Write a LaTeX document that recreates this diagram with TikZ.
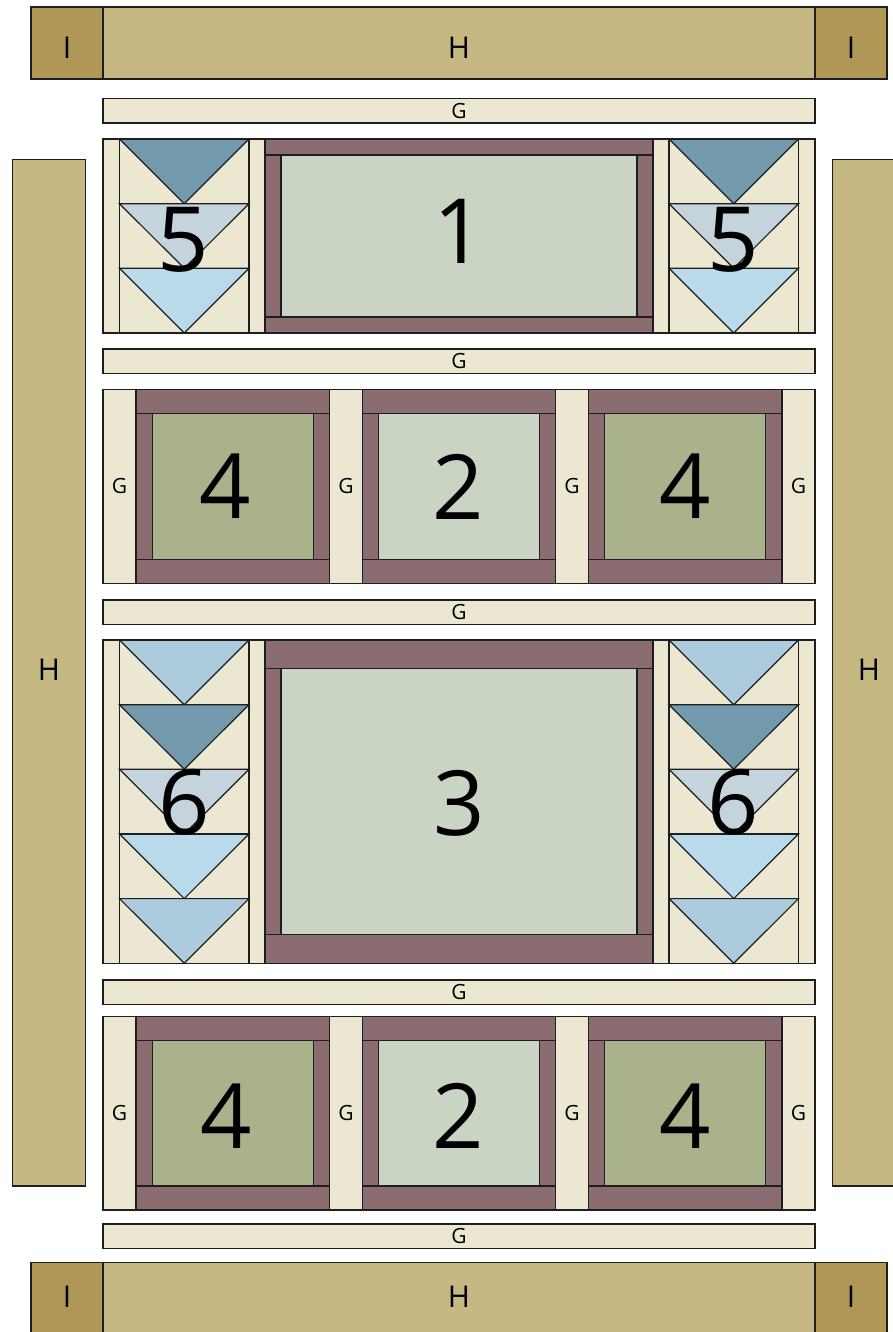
\documentclass[tikz,border=0pt]{standalone}
\usepackage{fontspec}
\setmainfont{Open Sans}
\definecolor{tanH}{HTML}{C5B883}
\definecolor{ochreI}{HTML}{B09756}
\definecolor{creamG}{HTML}{ECE7D0}
\definecolor{mauve}{HTML}{8B6C71}
\definecolor{sage}{HTML}{C9D4C4}
\definecolor{olive}{HTML}{AAB28B}
\definecolor{teal}{HTML}{7399AC}
\definecolor{grayblue}{HTML}{C4D3DC}
\definecolor{lightblue}{HTML}{B8DAEA}
\definecolor{midblue}{HTML}{ACCBDC}
\definecolor{edge}{HTML}{1E1E1E}
\tikzset{
  piece/.style={draw=edge,line width=1.2pt,line join=miter},
  lblsmall/.style={inner sep=0pt,font=\fontsize{21}{21}\selectfont},
  lblbig/.style={inner sep=0pt,font=\fontsize{30}{30}\selectfont},
  lblnum/.style={inner sep=0pt,font=\fontsize{90}{90}\selectfont},
}
% goose unit: x0 x1 ytop ybot colour
\newcommand\gooseunit[5]{%
  \fill[creamG] (#1,#3) rectangle (#2,#4);
  \filldraw[piece,fill=#5] (#1,#3) -- (#2,#3) -- ({(#1+#2)/2},#4) -- cycle;
  \draw[piece] (#1,#3) rectangle (#2,#4);
}
% framed block: x0 x1 y0 y1 dx dy centre-colour
\newcommand\framedblock[7]{%
  \filldraw[piece,fill=mauve] (#1,#3) rectangle (#2,#4);
  \draw[piece] (#1,#3+#6) -- (#2,#3+#6);
  \draw[piece] (#1,#4-#6) -- (#2,#4-#6);
  \filldraw[piece,fill=#7] (#1+#5,#3+#6) rectangle (#2-#5,#4-#6);
}
\begin{document}
\begin{tikzpicture}[x=1pt,y=-1pt]
\clip (0,0) rectangle (893,1332);
\fill[white] (0,0) rectangle (893,1332);
% top border
\filldraw[piece,fill=ochreI] (31,7) rectangle (103,79);
\filldraw[piece,fill=tanH] (103,7) rectangle (815,79);
\filldraw[piece,fill=ochreI] (815,7) rectangle (887,79);
\node[lblbig] (iTL) at (67,48) {I};
\node[lblbig] (hT) at (459,48) {H};
\node[lblbig] (iTR) at (851,48) {I};
% bottom border
\filldraw[piece,fill=ochreI] (31,1262.5) rectangle (103,1340);
\filldraw[piece,fill=tanH] (103,1262.5) rectangle (815,1340);
\filldraw[piece,fill=ochreI] (815,1262.5) rectangle (887,1340);
\node[lblbig] (iBL) at (67,1297) {I};
\node[lblbig] (hB) at (459,1297) {H};
\node[lblbig] (iBR) at (851,1297) {I};
% side borders
\filldraw[piece,fill=tanH] (12.5,159.5) rectangle (85.5,1186);
\filldraw[piece,fill=tanH] (832.5,159.5) rectangle (905.5,1186);
\node[lblbig] (hL) at (49,670) {H};
\node[lblbig] (hR) at (869,670) {H};
% horizontal sashing G
\foreach \ya/\yb/\nm in {98.5/123/g1,349/373.5/g2,600/624.5/g3,980/1004.5/g4,1224/1248.5/g5}{
  \filldraw[piece,fill=creamG] (103,\ya) rectangle (815,\yb);
  \node[lblsmall] (\nm) at (459,{(\ya+\yb)/2}) {G};
}
% ---------- row 1 ----------
\foreach \xa/\xb in {103/119.5,249/265,653/669,798.5/815}{
  \filldraw[piece,fill=creamG] (\xa,139) rectangle (\xb,333);
}
\foreach \xa/\xb in {119.5/249,669/798.5}{
  \gooseunit{\xa}{\xb}{139}{203.7}{teal}
  \gooseunit{\xa}{\xb}{203.7}{268.3}{grayblue}
  \gooseunit{\xa}{\xb}{268.3}{333}{lightblue}
}
\framedblock{265}{653}{139}{333}{16}{16}{sage}
\node[lblnum] (n1) at (459,231.5) {1};
\node[lblnum] (n5l) at (183.5,240) {5};
\node[lblnum] (n5r) at (733.5,240) {5};
% ---------- row 3 ----------
\foreach \xa/\xb in {103/119.5,249/265,653/669,798.5/815}{
  \filldraw[piece,fill=creamG] (\xa,640) rectangle (\xb,963.3);
}
\foreach \xa/\xb in {119.5/249,669/798.5}{
  \gooseunit{\xa}{\xb}{640}{704.7}{midblue}
  \gooseunit{\xa}{\xb}{704.7}{769.3}{teal}
  \gooseunit{\xa}{\xb}{769.3}{834}{grayblue}
  \gooseunit{\xa}{\xb}{834}{898.6}{lightblue}
  \gooseunit{\xa}{\xb}{898.6}{963.3}{midblue}
}
\framedblock{265}{653}{640}{963.3}{16}{28.5}{sage}
\node[lblnum] (n3) at (459,803) {3};
\node[lblnum] (n6l) at (184,802) {6};
\node[lblnum] (n6r) at (733.5,802) {6};
% ---------- rows 2 and 4 ----------
\foreach \ya/\yb/\r in {389.5/583.3/a,1016.5/1210/b}{
  \foreach \xa/\xb/\k in {103/136/1,329.7/362.3/2,555.7/588.3/3,782/815/4}{
    \filldraw[piece,fill=creamG] (\xa,\ya) rectangle (\xb,\yb);
    \node[lblsmall] (gv\r\k) at ({(\xa+\xb)/2},{(\ya+\yb)/2}) {G};
  }
  \framedblock{136}{329.7}{\ya}{\yb}{16.3}{24}{olive}
  \framedblock{362.3}{555.7}{\ya}{\yb}{16.3}{24}{sage}
  \framedblock{588.3}{782}{\ya}{\yb}{16.3}{24}{olive}
}
\node[lblnum] (n4a) at (225.5,486.5) {4};
\node[lblnum] (n2a) at (458.5,486.5) {2};
\node[lblnum] (n4b) at (685,486.5) {4};
\node[lblnum] (n4c) at (226,1116) {4};
\node[lblnum] (n2b) at (458.5,1116) {2};
\node[lblnum] (n4d) at (685,1116) {4};
\end{tikzpicture}
\end{document}
